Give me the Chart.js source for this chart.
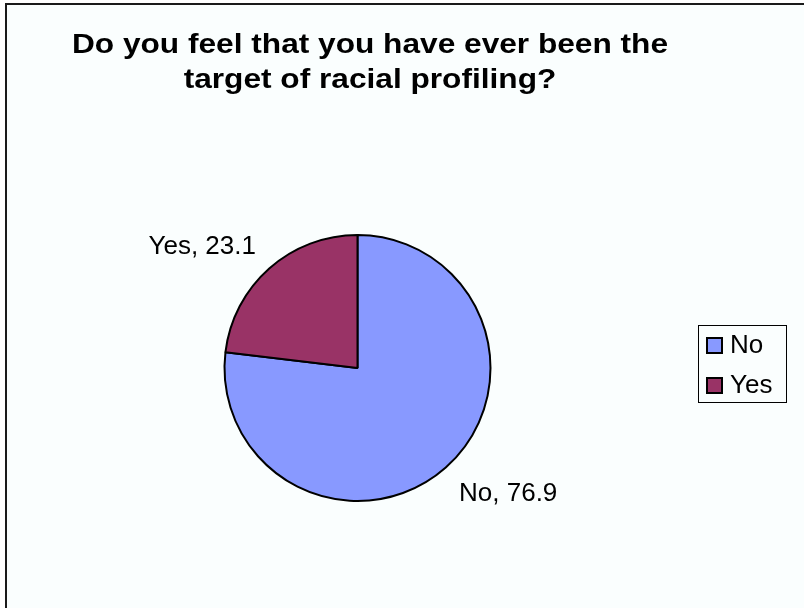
<!DOCTYPE html>
<html>
<head>
<meta charset="utf-8">
<script src="https://cdn.jsdelivr.net/npm/chart.js@4.4.0/dist/chart.umd.min.js"></script>
<style>
  html, body { margin: 0; padding: 0; background: #ffffff; }
  #wrap { width: 804px; height: 608px; }
</style>
</head>
<body>
<div id="wrap"><canvas id="grafico" width="804" height="608"></canvas></div>
<script>
// datos de la encuesta
const categorias = ['No', 'Yes'];
const porcentajes = [76.9, 23.1];
const colores = ['#8899ff', '#993366'];
const lineasTitulo = ['Do you feel that you have ever been the', 'target of racial profiling?'];

// fondo y marco del grafico
const fondo = {
  id: 'fondo',
  beforeDraw(chart) {
    const ctx = chart.ctx;
    ctx.save();
    ctx.fillStyle = '#ffffff';
    ctx.fillRect(0, 0, chart.width, chart.height);
    ctx.fillStyle = '#fafefe';
    ctx.fillRect(6, 4, chart.width, chart.height);
    ctx.strokeStyle = '#1a1a1a';
    ctx.lineWidth = 2;
    ctx.beginPath();
    ctx.moveTo(6, chart.height + 5);
    ctx.lineTo(6, 4);
    ctx.lineTo(chart.width + 5, 4);
    ctx.stroke();
    ctx.restore();
  }
};

// titulo en dos lineas, un poco ensanchado
const titulo = {
  id: 'titulo',
  afterDraw(chart) {
    const ctx = chart.ctx;
    ctx.save();
    ctx.fillStyle = '#000';
    ctx.font = 'bold 28px "Liberation Sans", Arial, sans-serif';
    ctx.textAlign = 'center';
    ctx.textBaseline = 'alphabetic';
    const cx = 370;
    lineasTitulo.forEach((t, i) => {
      ctx.save();
      ctx.translate(cx, 53 + i * 35);
      ctx.scale(1.13, 1);
      ctx.fillText(t, 0, 0);
      ctx.restore();
    });
    ctx.restore();
  }
};

// etiquetas "categoria, valor" fuera de cada porcion
const etiquetas = {
  id: 'etiquetas',
  afterDatasetsDraw(chart) {
    const ctx = chart.ctx;
    const meta = chart.getDatasetMeta(0);
    ctx.save();
    ctx.fillStyle = '#000';
    ctx.font = '26px "Liberation Sans", Arial, sans-serif';
    meta.data.forEach((arc, i) => {
      const p = arc.getProps(['x', 'y', 'startAngle', 'endAngle', 'outerRadius'], true);
      const medio = (p.startAngle + p.endAngle) / 2;
      const r = p.outerRadius + 20;
      const cos = Math.cos(medio), sin = Math.sin(medio);
      let x = p.x + cos * r;
      let y = p.y + sin * r;
      ctx.textAlign = cos >= 0 ? 'left' : 'right';
      ctx.textBaseline = 'alphabetic';
      if (sin > 0) y += 19;
      ctx.fillText(categorias[i] + ', ' + porcentajes[i], x, y);
    });
    ctx.restore();
  }
};

// leyenda con recuadro a la derecha
const leyenda = {
  id: 'leyenda',
  afterDraw(chart) {
    const ctx = chart.ctx;
    const colorDe = chart.data.datasets[0].backgroundColor;
    ctx.save();
    ctx.strokeStyle = '#000';
    ctx.lineWidth = 1;
    ctx.strokeRect(698.5, 325.5, 88, 77);
    ctx.font = '26px "Liberation Sans", Arial, sans-serif';
    ctx.textAlign = 'left';
    ctx.textBaseline = 'alphabetic';
    chart.data.labels.forEach((nombre, i) => {
      const y = 337 + i * 40;
      ctx.fillStyle = colorDe[i];
      ctx.fillRect(707, y + 1, 15, 15);
      ctx.lineWidth = 2;
      ctx.strokeRect(707, y + 1, 15, 15);
      ctx.fillStyle = '#000';
      ctx.fillText(nombre, 730, y + 16);
    });
    ctx.restore();
  }
};

const ctx = document.getElementById('grafico').getContext('2d');
const chart = new Chart(ctx, {
  type: 'pie',
  data: {
    labels: categorias,
    datasets: [{
      data: porcentajes,
      backgroundColor: colores,
      borderColor: '#000',
      borderWidth: 2
    }]
  },
  options: {
    responsive: false,
    animation: false,
    radius: 133,
    layout: { padding: { left: 0, right: 89, top: 128, bottom: 0 } },
    plugins: {
      legend: { display: false },
      title: { display: false },
      tooltip: { enabled: false }
    }
  },
  plugins: [fondo, titulo, etiquetas, leyenda]
});
</script>
</body>
</html>
